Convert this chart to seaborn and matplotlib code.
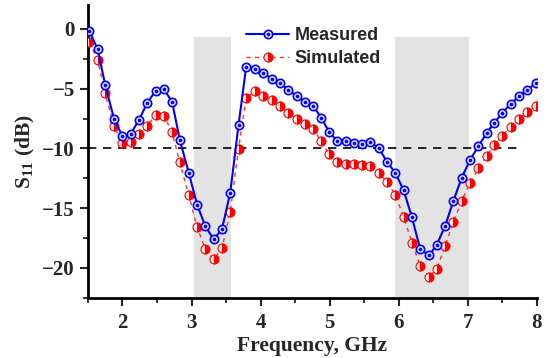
import numpy as np
import pandas as pd
import matplotlib
matplotlib.use("Agg")
import matplotlib.pyplot as plt
import seaborn as sns
from matplotlib.legend_handler import HandlerTuple
from matplotlib.ticker import MultipleLocator

# ---- data ----
freq = [1.52, 1.64, 1.75, 1.88, 2.00, 2.12, 2.24, 2.36, 2.48, 2.60, 2.72, 2.83, 2.96,
        3.08, 3.20, 3.32, 3.44, 3.56, 3.68, 3.79, 3.92, 4.04, 4.16, 4.28, 4.40, 4.52,
        4.64, 4.76, 4.88, 4.99, 5.11, 5.23, 5.35, 5.47, 5.59, 5.71, 5.83, 5.95, 6.07,
        6.19, 6.31, 6.44, 6.55, 6.67, 6.79, 6.91, 7.03, 7.15, 7.27, 7.38, 7.50, 7.62,
        7.74, 7.86, 7.98]
measured = [-0.14, -1.68, -4.67, -7.57, -8.97, -8.78, -7.60, -6.18, -5.17, -5.03, -6.14,
            -9.28, -12.04, -14.70, -16.51, -17.60, -16.76, -13.72, -8.05, -3.21, -3.33,
            -3.69, -4.16, -4.53, -5.08, -5.64, -6.12, -6.43, -7.46, -8.61, -9.39, -9.39,
            -9.58, -9.64, -9.50, -9.97, -11.12, -12.05, -13.50, -15.76, -18.44, -18.94,
            -18.05, -16.49, -14.39, -12.45, -10.98, -9.83, -8.72, -7.88, -7.01, -6.26,
            -5.64, -5.08, -4.56]
simulated = [-1.12, -2.60, -5.39, -8.16, -9.56, -9.45, -8.75, -8.10, -7.21, -7.26, -8.66,
             -11.17, -13.91, -16.57, -18.44, -19.28, -18.36, -15.31, -10.03, -5.78, -5.22,
             -5.59, -5.95, -6.43, -7.04, -7.54, -7.99, -8.38, -9.41, -10.50, -11.17, -11.29,
             -11.34, -11.37, -11.51, -12.04, -12.80, -13.89, -15.73, -17.88, -19.84, -20.73,
             -20.06, -18.16, -16.15, -14.39, -12.91, -11.67, -10.65, -9.72, -8.94, -8.21,
             -7.54, -6.98, -6.43]
bands = [(3.03, 3.57), (5.95, 7.02)]
band_top = -0.7
threshold = -10
threshold_span = (1.5, 7.78)
series_names = ["Measured", "Simulated"]
x_ticks = [2, 3, 4, 5, 6, 7, 8]
y_ticks = [0, -5, -10, -15, -20]

df = pd.DataFrame({"freq": freq, "Measured": measured, "Simulated": simulated})

sns.set_theme(style="ticks")
plt.rcParams["font.family"] = ["Liberation Serif", "DejaVu Serif"]
plt.rcParams["mathtext.default"] = "regular"
plt.rcParams["axes.unicode_minus"] = True

fig = plt.figure(figsize=(5.46, 3.58), dpi=100)
ax = fig.add_axes([0.161, 0.168, 0.8225, 0.818])

ylo, yhi = -22.5, 2.0
for a, b in bands:
    ax.fill_between([a, b], ylo, band_top, color="#e3e3e3", lw=0, zorder=0)

ax.plot(threshold_span, [threshold, threshold], color="black", ls=(0, (5, 4)), lw=1.2, zorder=1)

sns.lineplot(data=df, x="freq", y="Simulated", ax=ax, color="#ff3030", lw=1.0,
             linestyle=(0, (3, 3)), marker="o", markersize=6.5, fillstyle="right",
             markerfacecolor="red", markerfacecoloralt="#fff0f0", markeredgecolor="red",
             markeredgewidth=0.8, zorder=3, legend=False)
sns.lineplot(data=df, x="freq", y="Measured", ax=ax, color="blue", lw=1.5,
             marker="o", markersize=6, markerfacecolor="#e0e0ff", markeredgecolor="blue",
             markeredgewidth=1.2, zorder=4, legend=False)
ax.plot(df["freq"], df["Measured"], ls="none", marker="o", ms=1.6, color="blue", zorder=5)

ax.set_xlim(1.5, 8.0)
ax.set_ylim(ylo, yhi)
ax.set_xticks(x_ticks)
ax.set_yticks(y_ticks)
ax.xaxis.set_minor_locator(MultipleLocator(0.5))
ax.yaxis.set_minor_locator(MultipleLocator(2.5))
ax.tick_params(which="major", direction="out", length=6, width=1.5, labelsize=15)
ax.tick_params(axis="x", which="major", pad=5)
ax.tick_params(which="minor", direction="out", length=3.5, width=1.3)
for lab in ax.get_xticklabels() + ax.get_yticklabels():
    lab.set_fontweight("bold")
for s in ["top", "right"]:
    ax.spines[s].set_visible(False)
for s in ["left", "bottom"]:
    ax.spines[s].set_linewidth(2)
    ax.spines[s].set_color("black")

ax.set_xlabel("Frequency, GHz", fontsize=15.5, fontweight="bold", labelpad=2)
ax.set_ylabel("S$_{11}$ (dB)", fontsize=15.5, fontweight="bold", labelpad=4)

h_meas = (plt.Line2D([], [], color="blue", lw=1.5, marker="o", ms=6,
                     markerfacecolor="#e0e0ff", markeredgecolor="blue", markeredgewidth=1.2),
          plt.Line2D([], [], ls="none", marker="o", ms=1.6, color="blue"))
h_sim = plt.Line2D([], [], color="#ff3030", lw=1.0, ls=(0, (3, 3)), marker="o", ms=6.5,
                   fillstyle="right", markerfacecolor="red", markerfacecoloralt="#fff0f0",
                   markeredgecolor="red", markeredgewidth=0.8)
leg = ax.legend([h_meas, h_sim], series_names, handler_map={tuple: HandlerTuple(ndivide=1)},
                loc="upper left", bbox_to_anchor=(237 / 546, 1 - 18 / 358),
                bbox_transform=fig.transFigure, frameon=False, numpoints=1,
                handlelength=2.4, handletextpad=0.3, labelspacing=0.35, borderpad=0,
                prop={"family": "Liberation Sans", "weight": "bold", "size": 13})

fig.savefig("out.png", dpi=100)
